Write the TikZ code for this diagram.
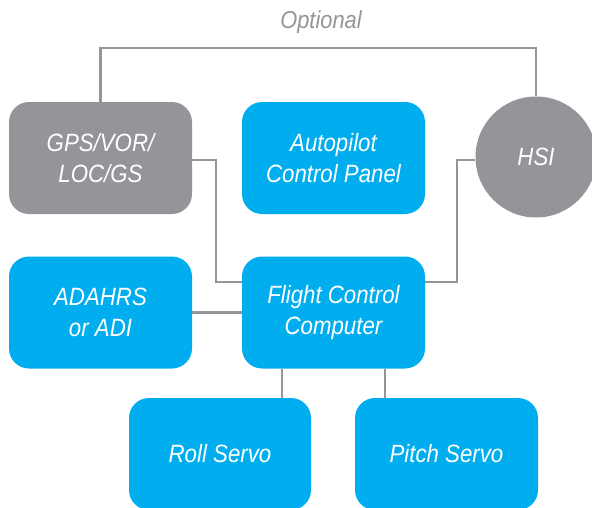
\documentclass[tikz,border=0pt]{standalone}
\usepackage{xcolor}
\usepackage{fontspec}
\setmainfont{Liberation Sans}[FakeStretch=0.89]
\usepackage{tikz}
\definecolor{bleuFCC}{HTML}{00AEEF}
\definecolor{grisFCC}{HTML}{939598}

\begin{document}
\begin{tikzpicture}[x=1pt,y=-1pt]
    % Styles (MODIFIABLES)
    \tikzstyle{liaison}=[draw=grisFCC,line width=2.5pt]
    \tikzstyle{boite}=[rounded corners=20pt,minimum width=183pt,minimum height=112pt,inner sep=0pt,align=center,text=white,font=\fontsize{25}{31}\selectfont\itshape]
    \tikzstyle{bleu}=[boite,fill=bleuFCC]
    \tikzstyle{gris}=[boite,fill=grisFCC]
    \tikzstyle{rond}=[circle,fill=grisFCC,minimum size=121pt,inner sep=0pt,text=white,font=\fontsize{25}{31}\selectfont\itshape]
    \tikzstyle{etiquette}=[text=grisFCC,font=\fontsize{24.5}{28}\selectfont\itshape]
    % Dimensions (MODIFIABLES)
    \def\NiveauA{158}
    \def\NiveauB{312.5}
    \def\NiveauC{454}
    \def\ColonneA{100.5}
    \def\ColonneB{333.5}
    \def\ColonneC{536}
    \useasboundingbox (0,0) rectangle (592,507);
    % Noeuds
    \node[gris] (gps) at ({\ColonneA},{\NiveauA}) {GPS/VOR/\\LOC/GS};
    \node[bleu] (acp) at ({\ColonneB},{\NiveauA}) {Autopilot\\Control Panel};
    \node[rond] (hsi) at ({\ColonneC},157) {HSI};
    \node[bleu] (adahrs) at ({\ColonneA},{\NiveauB}) {ADAHRS\\or ADI};
    \node[bleu] (fcc) at ({\ColonneB},{\NiveauB}) {Flight Control\\Computer};
    \node[bleu,minimum width=182pt] (roll) at (220,{\NiveauC}) {Roll Servo};
    \node[bleu] (pitch) at (446.5,{\NiveauC}) {Pitch Servo};
    \node[etiquette] (opt) at (321,22) {Optional};
    % Points de passage
    \coordinate (haut) at (321,48);
    \coordinate (jg) at (216,282);
    \coordinate (jh) at (457,282);
    \coordinate (jgs) at (0,160);
    \coordinate (jr) at (282,0);
    \coordinate (jp) at (385,0);
    % Arcs
    \draw[liaison] (gps.north) |- (haut) -| (hsi.north);
    \draw[liaison] (gps.east |- jgs) -| (jg) -- (jg -| fcc.west);
    \draw[liaison] (hsi.west |- jgs) -| (jh) -- (jh -| fcc.east);
    \draw[liaison] (adahrs.east) -- (fcc.west);
    \draw[liaison] (fcc.south -| jr) -- (roll.north -| jr);
    \draw[liaison] (fcc.south -| jp) -- (pitch.north -| jp);
\end{tikzpicture}
\end{document}
